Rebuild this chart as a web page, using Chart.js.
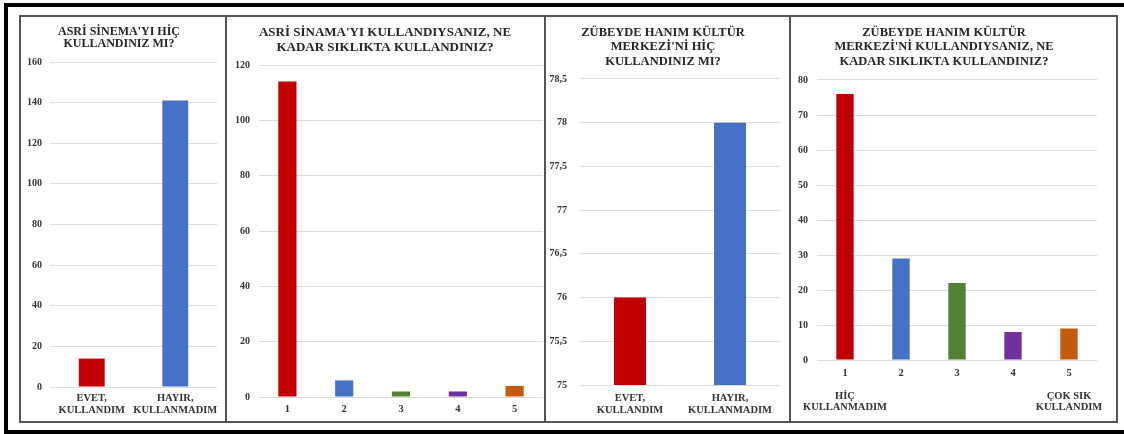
<!DOCTYPE html>
<html><head><meta charset="utf-8">
<script src="https://cdn.jsdelivr.net/npm/chart.js@4.4.1/dist/chart.umd.min.js"></script>
<style>
html,body{margin:0;padding:0;background:#fff;overflow:hidden;width:1124px;height:434px;}
#wrap{position:absolute;left:0;top:0;width:1124px;height:434px;overflow:hidden;}
#frame{position:absolute;left:4px;top:3px;width:1130px;height:423px;border-top:4px solid #000;border-left:4px solid #000;border-bottom:4px solid #000;}
.panel{position:absolute;top:15px;height:404px;border:2px solid #555;}
canvas{position:absolute;top:17px;}
</style></head><body>
<div id="wrap">
<div id="frame"></div>
<div class="panel" style="left:19px;width:204px"></div>
<div class="panel" style="left:225px;width:317px"></div>
<div class="panel" style="left:544px;width:243px"></div>
<div class="panel" style="left:789px;width:325px"></div>
<canvas id="c1" width="204" height="404" style="left:21px"></canvas>
<canvas id="c2" width="317" height="404" style="left:227px"></canvas>
<canvas id="c3" width="243" height="404" style="left:546px"></canvas>
<canvas id="c4" width="325" height="404" style="left:791px"></canvas>
</div>
<script>
// ---- data ----
const title1 = ["ASRİ SİNEMA'YI HİÇ", "KULLANDINIZ MI?"];
const cats1 = [["EVET,", "KULLANDIM"], ["HAYIR,", "KULLANMADIM"]];
const vals1 = [14, 141];

const title2 = ["ASRİ SİNAMA'YI KULLANDIYSANIZ, NE", "KADAR SIKLIKTA KULLANDINIZ?"];
const cats2 = ["1", "2", "3", "4", "5"];
const vals2 = [114, 6, 2, 2, 4];

const title3 = ["ZÜBEYDE HANIM KÜLTÜR", "MERKEZİ'Nİ HİÇ", "KULLANDINIZ MI?"];
const cats3 = [["EVET,", "KULLANDIM"], ["HAYIR,", "KULLANMADIM"]];
const vals3 = [76, 78];

const title4 = ["ZÜBEYDE HANIM KÜLTÜR", "MERKEZİ'Nİ KULLANDIYSANIZ, NE", "KADAR SIKLIKTA KULLANDINIZ?"];
const cats4 = [["1", "", "HİÇ", "KULLANMADIM"], "2", "3", "4", ["5", "", "ÇOK SIK", "KULLANDIM"]];
const vals4 = [76, 29, 22, 8, 9];

const colors2 = ["#C00000", "#4472C4"];
const colors5 = ["#C00000", "#4472C4", "#548235", "#7030A0", "#C55A11"];

const SERIF = "'Liberation Serif', 'Times New Roman', serif";

function make(id, title, labels, values, colors, o) {
  new Chart(document.getElementById(id), {
    type: 'bar',
    data: { labels: labels, datasets: [{ data: values, backgroundColor: colors,
      barPercentage: o.bar, categoryPercentage: 1 }] },
    options: {
      responsive: false, animation: false,
      layout: { padding: { left: 0, right: o.padR, top: 0, bottom: 0 } },
      plugins: {
        legend: { display: false }, tooltip: { enabled: false },
        title: { display: true, text: title, color: '#262626',
          font: { family: SERIF, weight: 'bold', size: o.tSize, lineHeight: o.tLh },
          padding: { top: o.tTop, bottom: o.tBot } }
      },
      scales: {
        x: {
          grid: { display: false, drawTicks: false }, border: { display: false },
          ticks: { color: '#333', maxRotation: 0, minRotation: 0, autoSkip: false, padding: o.xPad,
            font: { family: SERIF, weight: 'bold', size: 10.5, lineHeight: o.xLh } },
          afterFit: s => { s.height = o.xH; s.paddingLeft = 0; s.paddingRight = 0; }
        },
        y: {
          min: o.min, max: o.max, beginAtZero: false,
          grid: { color: '#dcdcdc', lineWidth: 1, drawTicks: false }, border: { display: false },
          ticks: { stepSize: o.step, color: '#333', padding: o.yPad,
            font: { family: SERIF, weight: 'bold', size: 10 },
            callback: v => String(v).replace('.', ',') },
          afterFit: s => { s.width = o.yW; s.paddingTop = 0; s.paddingBottom = 0; }
        }
      }
    }
  });
}

make('c1', title1, cats1, vals1, colors2, { bar: 0.31, padR: 8, tSize: 12, tLh: 1.0, tTop: 8.5, tBot: 12.5,
  xPad: 5, xLh: 1.14, xH: 34, min: 0, max: 160, step: 20, yPad: 8, yW: 29 });
make('c2', title2, cats2, vals2, colors5, { bar: 0.32, padR: 1, tSize: 13, tLh: 1.154, tTop: 7.8, tBot: 10.2,
  xPad: 6, xLh: 1.14, xH: 24, min: 0, max: 120, step: 20, yPad: 9, yW: 32 });
make('c3', title3, cats3, vals3, colors2, { bar: 0.32, padR: 9, tSize: 12.5, tLh: 1.176, tTop: 8, tBot: 9.9,
  xPad: 7, xLh: 1.14, xH: 36, min: 75, max: 78.5, step: 0.5, yPad: 13, yW: 34 });
make('c4', title4, cats4, vals4, colors5, { bar: 0.31, padR: 19, tSize: 12.5, tLh: 1.176, tTop: 8, tBot: 10.9,
  xPad: 7.2, xLh: 1.1, xH: 61, min: 0, max: 80, step: 10, yPad: 9, yW: 26 });
</script>
</body></html>
